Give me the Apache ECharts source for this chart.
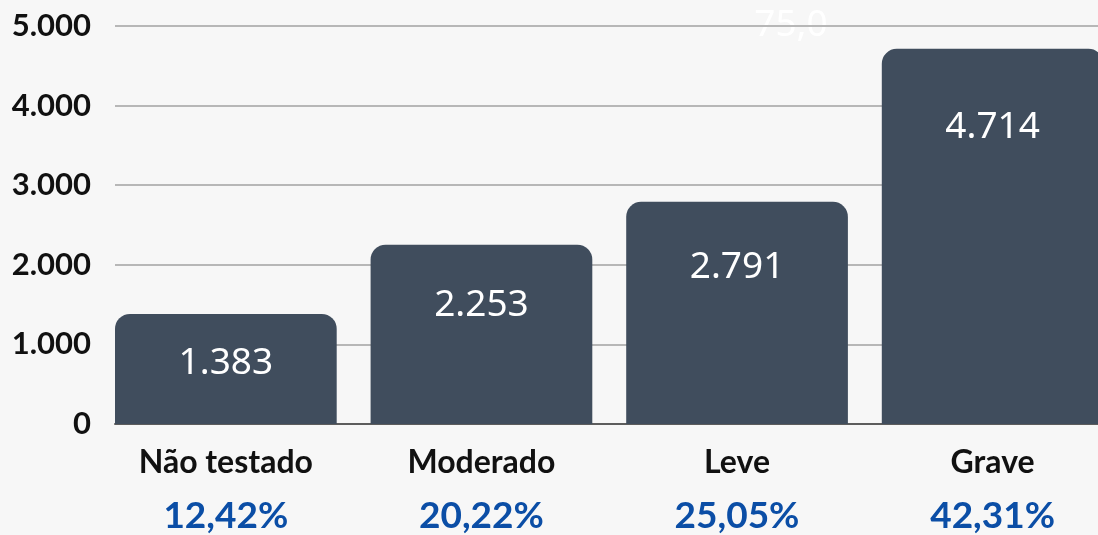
<!DOCTYPE html>
<html>
<head>
<meta charset="utf-8">
<style>
  html, body { margin: 0; padding: 0; background: #f7f7f7; }
  #chart { width: 1098px; height: 535px; }
</style>
<script src="https://cdn.jsdelivr.net/npm/echarts@6/dist/echarts.min.js"></script>
</head>
<body>
<div id="chart"></div>
<script>
const categories = ['Não testado', 'Moderado', 'Leve', 'Grave']
const totals = [1383, 2253, 2791, 4714]
const shares = ['12,42%', '20,22%', '25,05%', '42,31%']
const yTicks = { min: 0, max: 5000, interval: 1000 }
const stray = '75,0'

const fmt = (v) => String(v).replace(/\B(?=(\d{3})+(?!\d))/g, '.')

const chart = echarts.init(document.getElementById('chart'))

// the original puts value labels a bit lower in taller bars
const labelDistance = (v) => 23.5 * Math.log(v) - 139

chart.setOption({
  animation: false,
  backgroundColor: '#f7f7f7',
  graphic: [
    {
      type: 'text',
      x: 791,
      y: 25,
      style: {
        text: stray,
        align: 'center',
        verticalAlign: 'middle',
        fill: '#ffffff',
        font: '37px "Noto Sans"'
      }
    }
  ],
  grid: {
    left: 115,
    right: -39.4,
    top: 26,
    bottom: 111,
    containLabel: false,
    outerBoundsMode: 'none'
  },
  xAxis: {
    type: 'category',
    data: categories,
    axisTick: { show: false },
    axisLine: { lineStyle: { color: '#5d5d5d', width: 2 } },
    axisLabel: {
      margin: 16,
      interval: 0,
      padding: [0, 34, 0, 0],
      formatter: (v, i) => '{a|' + v + '}\n{b|' + shares[i] + '}',
      rich: {
        a: {
          fontFamily: 'Lato',
          fontWeight: 'bold',
          fontSize: 32,
          lineHeight: 46,
          color: '#111111'
        },
        b: {
          fontFamily: 'Lato',
          fontWeight: 'bold',
          fontSize: 37,
          lineHeight: 60,
          color: '#0b4ea6'
        }
      }
    }
  },
  yAxis: {
    type: 'value',
    min: yTicks.min,
    max: yTicks.max,
    interval: yTicks.interval,
    axisLine: { show: false },
    axisTick: { show: false },
    axisLabel: {
      margin: 24,
      fontFamily: 'Lato',
      fontWeight: 'bold',
      fontSize: 31,
      color: '#111111',
      formatter: fmt
    },
    splitLine: { lineStyle: { color: '#b7b7b7', width: 2 } }
  },
  series: [
    {
      type: 'bar',
      barWidth: 221.7,
      barGap: 0,
      barCategoryGap: 0,
      itemStyle: { color: '#404d5d', borderRadius: [15, 15, 0, 0] },
      data: totals.map((v) => ({
        value: v,
        label: { distance: labelDistance(v) }
      })),
      label: {
        show: true,
        position: 'insideTop',
        color: '#ffffff',
        fontFamily: 'Noto Sans',
        fontSize: 37,
        formatter: (p) => fmt(p.value)
      }
    },
    {
      // empty spacer so the bars sit at the left of each category
      type: 'bar',
      barWidth: 33.9,
      silent: true,
      data: []
    }
  ]
})
</script>
</body>
</html>
